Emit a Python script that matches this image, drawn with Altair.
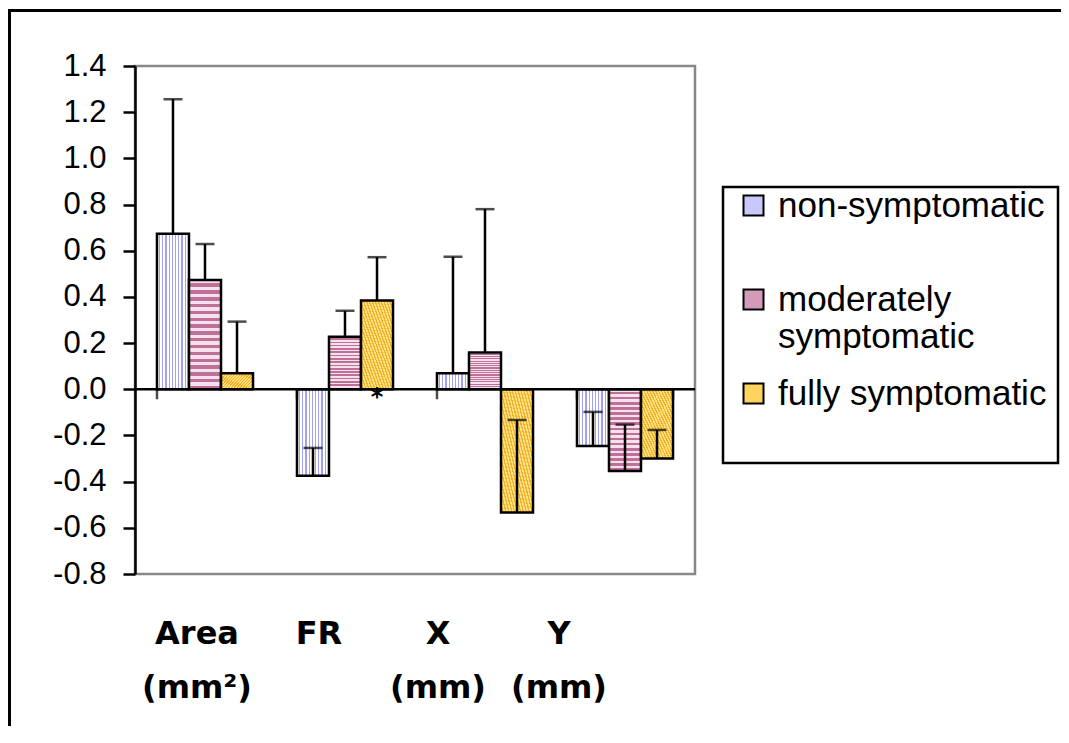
import altair as alt
import pandas as pd

categories = ["Area (mm²)", "FR", "X (mm)", "Y (mm)"]
groups = ["non-symptomatic", "moderately symptomatic", "fully symptomatic"]
means_non = [0.674, -0.375, 0.069, -0.246]
means_mod = [0.473, 0.228, 0.159, -0.354]
means_full = [0.069, 0.384, -0.534, -0.300]
err_non = [0.582, 0.121, 0.505, 0.148]
err_mod = [0.156, 0.112, 0.621, 0.201]
err_full = [0.224, 0.188, 0.401, 0.124]
y_ticks = [-0.8, -0.6, -0.4, -0.2, 0.0, 0.2, 0.4, 0.6, 0.8, 1.0, 1.2, 1.4]
marker_category = ["FR"]
marker_group = ["fully symptomatic"]
marker_text = ["*"]
legend_colors = ["#c8c8fa", "#d49ab8", "#ffd45e"]

rows = []
for g, ms, es in zip(groups, [means_non, means_mod, means_full], [err_non, err_mod, err_full]):
    for c, m, e in zip(categories, ms, es):
        rows.append({"category": c, "group": g, "mean": m, "top": m + e})
df = pd.DataFrame(rows)
markers = pd.DataFrame({"category": marker_category, "group": marker_group, "text": marker_text})


def stripes(n, c_bg, c_line, frac, x1, y1, x2, y2):
    stops = []
    for i in range(n):
        a = i / n
        b = (i + frac) / n
        c = (i + 1) / n
        stops += [
            {"offset": a, "color": c_bg},
            {"offset": b, "color": c_bg},
            {"offset": b, "color": c_line},
            {"offset": c, "color": c_line},
        ]
    return {"gradient": "linear", "x1": x1, "y1": y1, "x2": x2, "y2": y2, "stops": stops}


grad_non = stripes(10, "#ffffff", "#a0a0f4", 0.62, 0, 0, 1, 0)
grad_mod = stripes(16, "#f6e2ec", "#bf6f98", 0.5, 0, 0, 0, 1)
grad_full = stripes(22, "#ffe07a", "#efb02c", 0.55, 0, 1, 1, 0)

x_scale = alt.Scale(domain=categories, paddingInner=0.314, paddingOuter=0.157)
x_axis = alt.Axis(
    title=None,
    ticks=False,
    domain=False,
    labelAngle=0,
    labelFont="DejaVu Sans",
    labelFontWeight="bold",
    labelFontSize=32,
    labelColor="black",
    labelPadding=44,
    labelLineHeight=54,
    labelBaseline="top",
    labelExpr="split(datum.label, ' ')",
    labelOffset={
        "condition": [
            {"test": "datum.value == 'FR'", "value": -26},
            {"test": "datum.value == 'X (mm)'", "value": -47},
            {"test": "datum.value == 'Y (mm)'", "value": -66},
        ],
        "value": -8,
    },
)
x_enc = alt.X("category:N", scale=x_scale, axis=x_axis)
xo_enc = alt.XOffset("group:N", scale=alt.Scale(domain=groups, paddingInner=0, paddingOuter=0))
y_axis = alt.Axis(
    title=None,
    values=y_ticks,
    grid=False,
    domainColor="black",
    domainWidth=2.5,
    tickColor="black",
    tickWidth=2.5,
    tickSize=12,
    labelPadding=17,
    labelFont="Liberation Sans",
    labelFontSize=31,
    labelColor="black",
    labelExpr="(datum.value < -0.001 ? '-' : '') + format(abs(datum.value), '.1f')",
)
y_scale = alt.Scale(domain=[-0.8, 1.4], nice=False, zero=False)

one_row = alt.Data(values=[{}])

frame = alt.Chart(one_row).mark_rect(
    fillOpacity=0, stroke="black", strokeWidth=3
).encode(
    x=alt.value(-125.5), x2=alt.value(2000), y=alt.value(-55.5), y2=alt.value(2000)
)

legend_box = alt.Chart(one_row).mark_rect(
    fill="white", stroke="black", strokeWidth=2.5
).encode(
    x=alt.value(588), x2=alt.value(923), y=alt.value(121), y2=alt.value(397)
)

base = alt.Chart(df)

legend_bars = base.mark_bar().encode(
    x=x_enc,
    xOffset=xo_enc,
    y=alt.Y("mean:Q", scale=y_scale, axis=y_axis),
    y2=alt.datum(0),
    color=alt.Color(
        "group:N",
        scale=alt.Scale(domain=groups, range=legend_colors),
        legend=alt.Legend(
            title=None,
            orient="none",
            legendX=601,
            legendY=122,
            padding=0,
            symbolType="square",
            symbolSize=400,
            symbolStrokeColor="black",
            symbolStrokeWidth=2,
            symbolOpacity=1,
            labelFont="Liberation Sans",
            labelFontSize=35,
            labelColor="black",
            labelOffset=7,
            labelLimit=500,
            gridAlign="all",
            rowPadding=21,
            labelExpr="datum.label == 'moderately symptomatic' ? ['moderately', 'symptomatic'] : datum.label",
        ),
    ),
)

pattern_bars = base.mark_bar(stroke="black", strokeWidth=2.5).encode(
    x=x_enc,
    xOffset=xo_enc,
    y=alt.Y("mean:Q", scale=y_scale, axis=y_axis),
    y2=alt.datum(0),
    fill=alt.FillValue(
        value=grad_full,
        condition=[
            {"test": "datum.group == 'non-symptomatic'", "value": grad_non},
            {"test": "datum.group == 'moderately symptomatic'", "value": grad_mod},
        ],
    ),
)

err_lines = base.mark_rule(color="black", strokeWidth=2.5).encode(
    x=x_enc,
    xOffset=xo_enc,
    y=alt.Y("mean:Q", scale=y_scale, axis=y_axis),
    y2="top:Q",
)
err_caps = base.mark_tick(color="black", thickness=2.5, size=19, orient="horizontal").encode(
    x=x_enc,
    xOffset=xo_enc,
    y=alt.Y("top:Q", scale=y_scale, axis=y_axis),
)

zero_line = alt.Chart(one_row).mark_rule(color="black", strokeWidth=2.5).encode(
    y=alt.datum(0, scale=y_scale)
)

cat_df = pd.DataFrame({"category": categories})
bound_ticks = alt.Chart(cat_df).mark_tick(
    color="black", thickness=2.5, size=10, orient="vertical", yOffset=5
).encode(
    x=alt.X("category:N", scale=x_scale, axis=x_axis, bandPosition=0),
    y=alt.datum(0),
)
end_tick = alt.Chart(cat_df).transform_filter(
    alt.datum.category == categories[-1]
).mark_tick(
    color="black", thickness=2.5, size=10, orient="vertical", yOffset=5
).encode(
    x=alt.X("category:N", scale=x_scale, axis=x_axis, bandPosition=1),
    y=alt.datum(0),
)

marks_txt = alt.Chart(markers).mark_text(
    font="DejaVu Sans", fontSize=24, fontWeight="bold", baseline="middle", dy=9, color="black"
).encode(
    x=x_enc,
    xOffset=xo_enc,
    y=alt.datum(0),
    text="text:N",
)

chart = alt.layer(
    frame, legend_box, legend_bars, pattern_bars, err_lines, err_caps,
    zero_line, bound_ticks, end_tick, marks_txt
).properties(
    width=560,
    height=508,
    padding={"left": 127, "top": 58, "right": 366, "bottom": 152},
    autosize=alt.AutoSizeParams(type="none"),
    background="white",
).configure_view(
    stroke="#888888", strokeWidth=2.5
)

chart.save("out.html", embed_options={"renderer": "svg", "actions": False})
